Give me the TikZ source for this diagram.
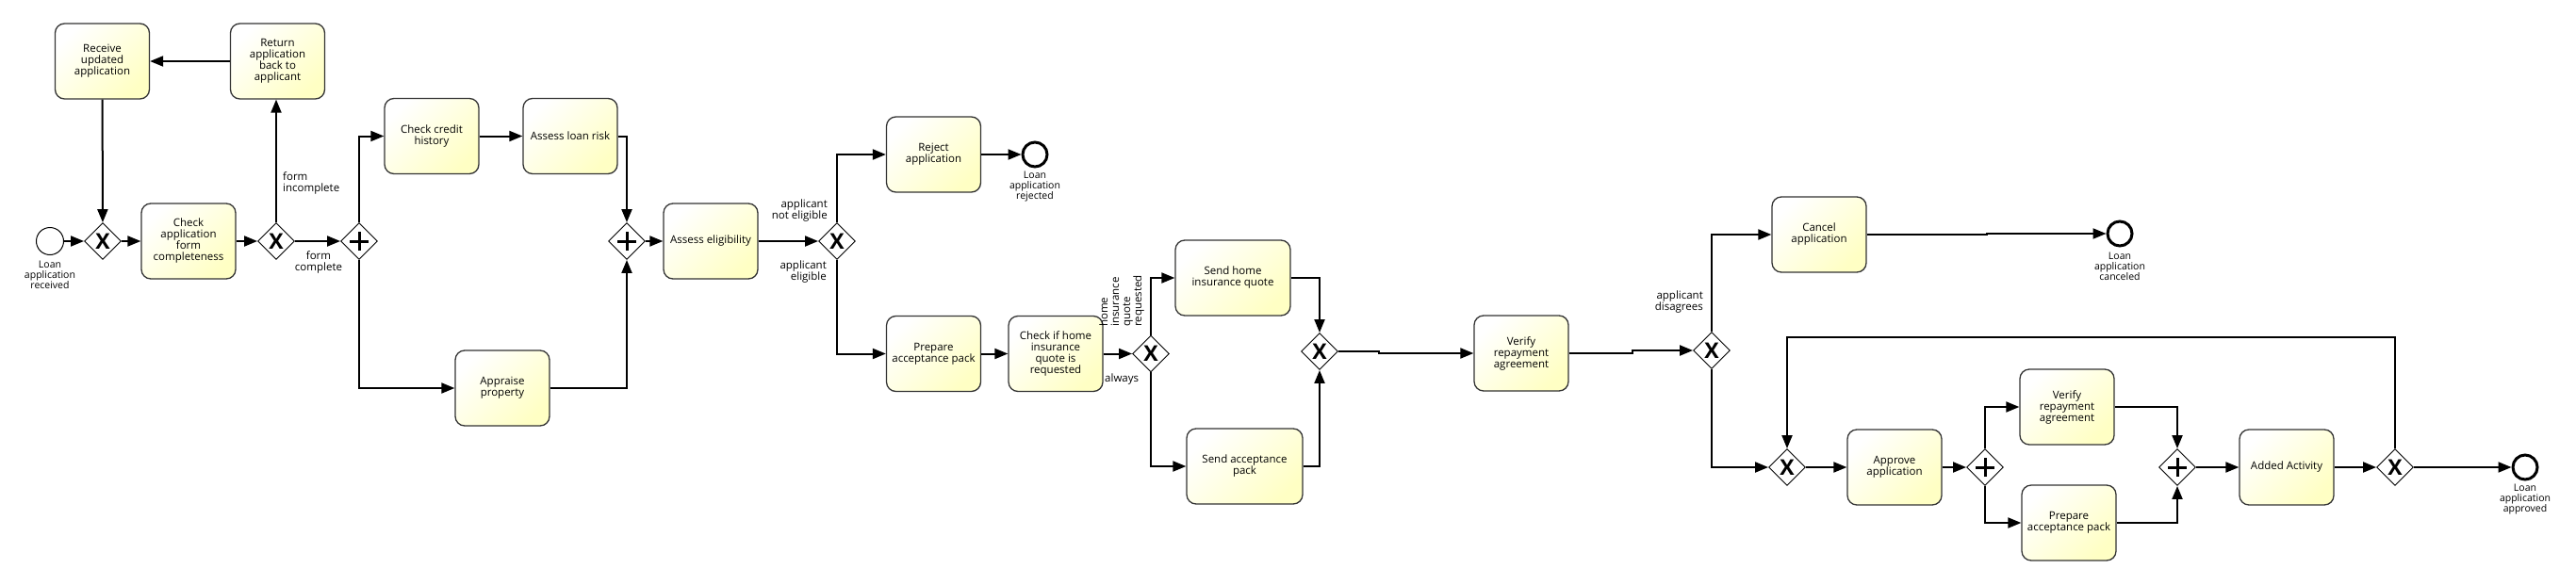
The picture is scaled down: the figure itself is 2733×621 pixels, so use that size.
\documentclass[tikz,border=0pt]{standalone}
\usepackage{fontspec}
\setmainfont{Open Sans}
\usetikzlibrary{shapes.geometric,arrows.meta}
\definecolor{tyel}{RGB}{255,255,196}
\begin{document}
\begin{tikzpicture}[x=1pt,y=-1pt,
    task/.style={draw=black!80,line width=1.3pt,rounded corners=10pt,
        minimum width=100pt,minimum height=80pt,inner sep=1pt,align=center,
        top color=white,bottom color=tyel,shading angle=45,
        font=\fontsize{11.5}{12}\selectfont},
    gw/.style={diamond,draw,fill=white,line width=0.9pt,minimum width=39pt,
        minimum height=39pt,inner sep=0pt},
    xgw/.style={gw,font=\fontsize{23}{23}\bfseries},
    pgw/.style={gw,path picture={
        \draw[line width=3pt] ([xshift=-10pt]path picture bounding box.center)
            -- ([xshift=10pt]path picture bounding box.center);
        \draw[line width=3pt] ([yshift=-10pt]path picture bounding box.center)
            -- ([yshift=10pt]path picture bounding box.center);}},
    startev/.style={circle,draw,line width=1pt,minimum size=29pt,inner sep=0pt},
    endev/.style={circle,draw,line width=3pt,minimum size=26pt,inner sep=0pt},
    flow/.style={line width=2pt,-{Triangle[length=14pt,width=11pt]}},
    lbl/.style={inner sep=0pt,font=\fontsize{11.5}{12}\selectfont},
    evlbl/.style={inner sep=0pt,align=center,font=\fontsize{10.5}{11}\selectfont}]
    \useasboundingbox (0,0) rectangle (2733,621);

    \node[task] (rcv) at (108.5,65) {Receive\\updated\\application};
    \node[task] (ret) at (294.5,65) {Return\\application\\back to\\applicant};
    \node[task] (chk) at (200,256) {Check\\application\\form\\completeness};
    \node[task] (cred) at (458,144.5) {Check credit\\history};
    \node[task] (risk) at (605,144.5) {Assess loan risk};
    \node[task] (appr) at (533,412) {Appraise\\property};
    \node[task] (elig) at (754,256) {Assess eligibility};
    \node[task] (rej) at (990.5,164) {Reject\\application};
    \node[task] (prep) at (990.5,375.5) {Prepare\\acceptance pack};
    \node[task] (ins) at (1120,375.5) {Check if home\\insurance\\quote is\\requested};
    \node[task,minimum width=122pt] (sendq) at (1308,295) {Send home\\insurance quote};
    \node[task,minimum width=123pt] (sendp) at (1320.5,495) {Send acceptance\\pack};
    \node[task] (ver) at (1614,375) {Verify\\repayment\\agreement};
    \node[task] (canc) at (1930,249) {Cancel\\application};
    \node[task] (apv) at (2010,496) {Approve\\application};
    \node[task] (ver2) at (2193,432) {Verify\\repayment\\agreement};
    \node[task] (prep2) at (2195,555) {Prepare\\acceptance pack};
    \node[task] (add) at (2426,496) {Added Activity};

    \foreach \n/\x/\y in {g1/109/256,g2/293/256,g3/888/256,g4/1221/375.5,
        g5/1400/373,g6/1816/372,g7/1896/496,g8/2541/496}
        \node[xgw] (\n) at (\x,\y) {X};
    \foreach \n/\x/\y in {p1/381/256,p2/665/256,p3/2106/496,p4/2310/496}
        \node[pgw] (\n) at (\x,\y) {};

    \node[startev] (s) at (53,256) {};
    \node[endev] (e1) at (1098,164) {};
    \node[endev] (e2) at (2249,248) {};
    \node[endev] (e3) at (2679,496) {};
    \node[evlbl] at (53,292) {Loan\\application\\received};
    \node[evlbl] at (1098,198) {Loan\\application\\rejected};
    \node[evlbl] at (2249,283) {Loan\\application\\canceled};
    \node[evlbl] at (2679,530) {Loan\\application\\approved};

    \draw[flow] (s) -- (g1);
    \draw[flow] (rcv) -- (g1);
    \draw[flow] (g1) -- (chk);
    \draw[flow] (chk) -- (g2);
    \draw[flow] (g2.north) -- (g2.north |- ret.south);
    \draw[flow] (ret) -- (rcv);
    \draw[flow] (g2) -- (p1);
    \draw[flow] (p1) |- (cred);
    \draw[flow] (cred) -- (risk);
    \draw[flow] (risk) -| (p2);
    \draw[flow] (p1) |- (appr);
    \draw[flow] (appr) -| (p2);
    \draw[flow] (p2) -- (elig);
    \draw[flow] (elig) -- (g3);
    \draw[flow] (g3) |- (rej);
    \draw[flow] (rej) -- (e1);
    \draw[flow] (g3) |- (prep);
    \draw[flow] (prep) -- (ins);
    \draw[flow] (ins) -- (g4);
    \draw[flow] (g4) |- (sendq);
    \draw[flow] (g4) |- (sendp);
    \draw[flow] (sendq) -| (g5);
    \draw[flow] (sendp) -| (g5);
    \draw[flow] (g5.east) -- ++(43,0) |- (ver);
    \draw[flow] (ver.east) -- ++(67,0) |- (g6);
    \draw[flow] (g6) |- (canc);
    \draw[flow] (canc.east) -- ++(127,0) |- (e2);
    \draw[flow] (g6) |- (g7);
    \draw[flow] (g7) -- (apv);
    \draw[flow] (apv) -- (p3);
    \draw[flow] (p3) |- (ver2);
    \draw[flow] (p3) |- (prep2);
    \draw[flow] (ver2) -| (p4);
    \draw[flow] (prep2) -| (p4);
    \draw[flow] (p4) -- (add);
    \draw[flow] (add) -- (g8);
    \draw[flow] (g8) -- (e3);
    \coordinate (lp) at (2200,358);
    \draw[flow] (g8.north) -- (g8.north |- lp) -| (g7.north);

    \node[lbl,anchor=west,align=left] at (300,194) {form\\incomplete};
    \node[lbl,align=center] at (338,278) {form\\complete};
    \node[lbl,anchor=east,align=right] at (878,224) {applicant\\not eligible};
    \node[lbl,anchor=east,align=right] at (877,289) {applicant\\eligible};
    \node[lbl,anchor=west] at (1172,403) {always};
    \node[lbl,rotate=90,anchor=south west,align=left] at (1214,347)
        {home\\insurance\\quote\\requested};
    \node[lbl,anchor=east,align=right] at (1807,321) {applicant\\disagrees};
\end{tikzpicture}
\end{document}
